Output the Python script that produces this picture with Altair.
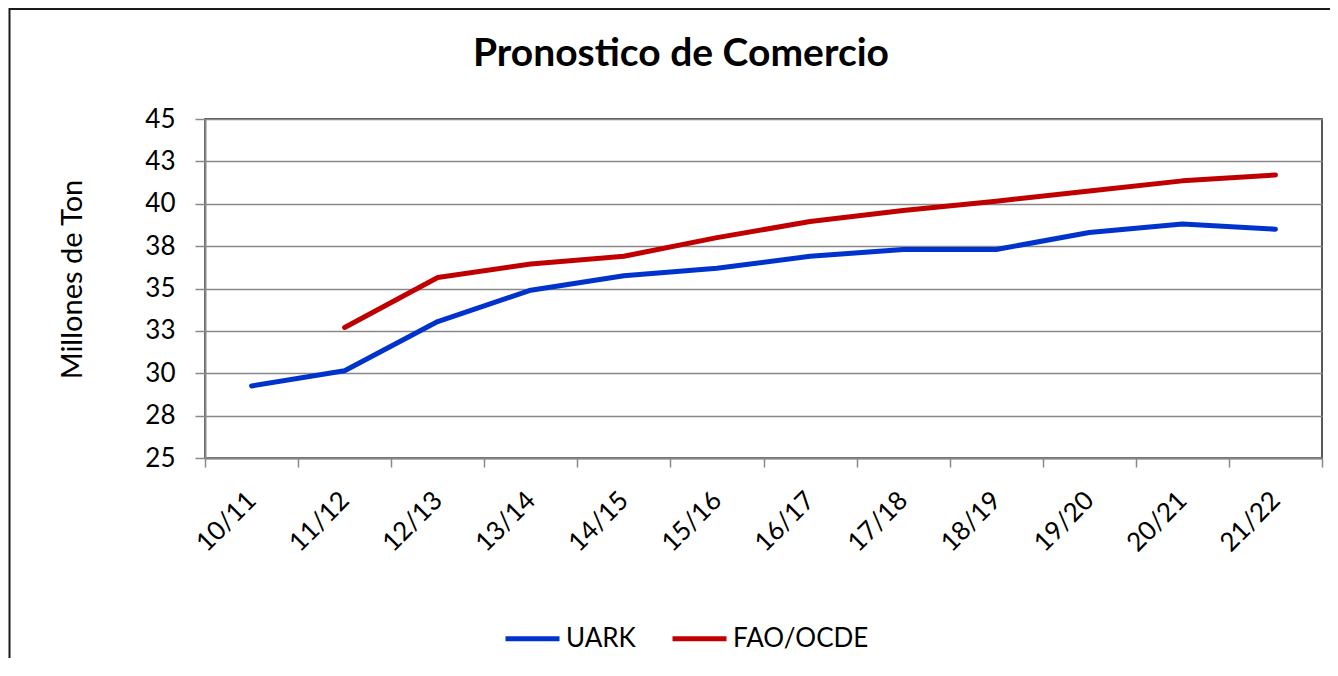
import altair as alt
import pandas as pd

campanas = ["10/11", "11/12", "12/13", "13/14", "14/15", "15/16",
            "16/17", "17/18", "18/19", "19/20", "20/21", "21/22"]
uark = [29.25, 30.15, 33.05, 34.9, 35.75, 36.2, 36.9, 37.3, 37.3, 38.3, 38.8, 38.5]
fao_ocde = [None, 32.7, 35.65, 36.45, 36.9, 38.0, 38.95, 39.6, 40.15, 40.75, 41.35, 41.7]
series = ["UARK", "FAO/OCDE"]
colors = ["#0033CC", "#C00000"]
y_ticks = [25, 27.5, 30, 32.5, 35, 37.5, 40, 42.5, 45]
titulo = ["Pronostico de Comercio"]

rows = []
for c, u, f in zip(campanas, uark, fao_ocde):
    rows.append({"campana": c, "serie": series[0], "valor": u})
    rows.append({"campana": c, "serie": series[1], "valor": f})
df = pd.DataFrame(rows)

FONT = "Lato"
W, H = 1117, 339

lines = alt.Chart(df).mark_line(strokeWidth=5, strokeCap="round", strokeJoin="round").encode(
    x=alt.X("campana:N", sort=campanas, bandPosition=0.5,
            scale=alt.Scale(type="band", paddingInner=0, paddingOuter=0),
            axis=alt.Axis(title=None, tickBand="extent", labelAngle=315, labelAlign="right",
                          labelBaseline="middle", labelPadding=29, labelFontSize=26,
                          labelFont=FONT, labelColor="#000000", tickSize=9, tickColor="#888888",
                          tickWidth=1.5, domainColor="#888888", domainWidth=2, grid=False,
                          labelOffset=0)),
    y=alt.Y("valor:Q", scale=alt.Scale(domain=[25, 45], nice=False, zero=False),
            axis=alt.Axis(values=y_ticks, labelExpr="format(round(datum.value), 'd')",
                          title="Millones de Ton", titleFont=FONT, titleFontSize=29,
                          titleFontWeight="normal", titleColor="#000000", titleAngle=270,
                          titleX=-133, titleY=160, titleAlign="center", titleBaseline="middle",
                          labelFontSize=26, labelFont=FONT, labelColor="#000000", labelPadding=20,
                          tickSize=10, tickColor="#888888", tickWidth=1.5,
                          domainColor="#888888", domainWidth=2,
                          grid=True, gridColor="#888888", gridWidth=1.5)),
    color=alt.Color("serie:N", sort=series,
                    scale=alt.Scale(domain=series, range=colors),
                    legend=alt.Legend(title=None, orient="none", direction="horizontal",
                                      legendX=298, legendY=490, symbolType="stroke",
                                      symbolSize=2916, symbolStrokeWidth=5,
                                      labelFontSize=26, labelFont=FONT, labelColor="#000000",
                                      labelOffset=4, columnPadding=26))
)

frame = alt.Chart(pd.DataFrame({"a": [0]})).mark_rect(
    fill=None, stroke="#1a1a1a", strokeWidth=2
).encode(
    x=alt.value(-195.5), x2=alt.value(1200),
    y=alt.value(-110), y2=alt.value(700)
)

title = alt.Chart(pd.DataFrame({"t": titulo})).mark_text(
    font=FONT, fontSize=39, fontWeight="bold", color="#000000",
    align="center", baseline="alphabetic"
).encode(
    text="t:N", x=alt.value(476), y=alt.value(-53)
)

chart = alt.layer(frame, lines, title).properties(
    width=W, height=H,
    autosize=alt.AutoSizeParams(type="none"),
    padding={"left": 197, "top": 111, "right": 8, "bottom": 200},
).configure_view(stroke="#222222", strokeWidth=1.5)

chart.save("out.html", embed_options={"renderer": "svg", "actions": False})
